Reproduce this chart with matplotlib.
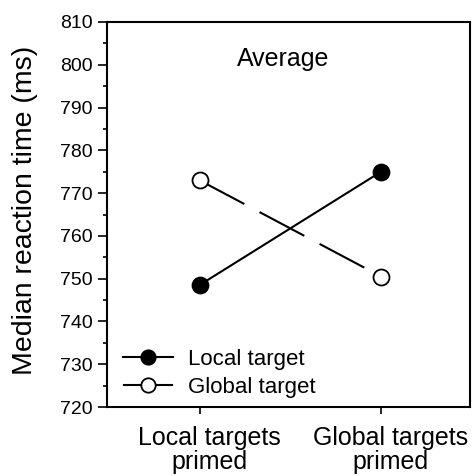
import matplotlib
matplotlib.use("Agg")
import matplotlib.pyplot as plt
import matplotlib.transforms as mtransforms
from matplotlib.ticker import MultipleLocator

plt.rcParams['font.family'] = ['Liberation Sans', 'DejaVu Sans']

conditions = ["Local targets\nprimed", "Global targets\nprimed"]
local_target = [748.5, 775.0]
global_target = [773.0, 750.5]
panel_title = "Average"
y_label = "Median reaction time (ms)"

fig = plt.figure(figsize=(4.72, 4.76), dpi=100)
ax = fig.add_axes([107 / 472, 1 - 407 / 476, 363 / 472, 385 / 476])

x = list(range(len(conditions)))
ax.plot(x, local_target, color='black', lw=1.5, marker='o', ms=11.5,
        mfc='black', mec='black', mew=1.3, label='Local target')
ax.plot(x, global_target, color='black', lw=1.5, marker='o', ms=11.5,
        mfc='white', mec='black', mew=1.3, dashes=(24.3, 8.3),
        label='Global target')

ax.set_xlim(-0.51, 1.49)
ax.set_ylim(720, 810)
ax.yaxis.set_major_locator(MultipleLocator(10))
ax.yaxis.set_minor_locator(MultipleLocator(5))
ax.set_xticks(x)
ax.set_xticklabels(conditions, fontsize=18, linespacing=0.97)
ax.tick_params(axis='y', which='major', direction='out', length=6.5, width=1.2,
               labelsize=14, pad=4)
ax.tick_params(axis='y', which='minor', direction='out', length=3, width=1.2)
ax.tick_params(axis='x', which='major', direction='out', length=5, width=1.2,
               pad=9)
for s in ax.spines.values():
    s.set_linewidth(1.5)

# shift category labels slightly to the right of their ticks
shift = mtransforms.ScaledTranslation(7 / 72, 0, fig.dpi_scale_trans)
for lbl in ax.get_xticklabels():
    lbl.set_transform(lbl.get_transform() + shift)

ax.set_ylabel(y_label, fontsize=20.5)
ax.yaxis.set_label_coords(-0.19, 0.51)
ax.text(0.485, 0.886, panel_title, transform=ax.transAxes, ha='center',
        va='baseline', fontsize=18)

leg = ax.legend(loc='lower left', frameon=False, fontsize=16,
                handlelength=2.25, handletextpad=0.7, labelspacing=0.3,
                markerscale=0.9, borderaxespad=0.3,
                bbox_to_anchor=(0.0, -0.016))

fig.savefig("out.png", dpi=100)
